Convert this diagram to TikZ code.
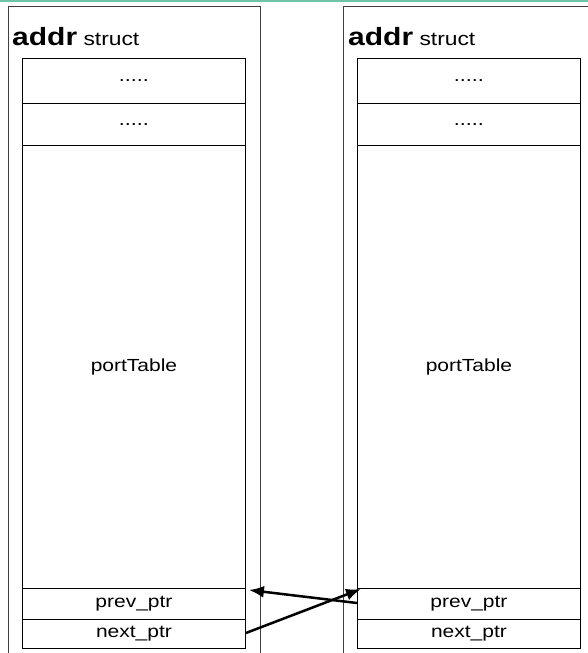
\documentclass[tikz,border=0pt]{standalone}
\usepackage{fontspec}
\setmainfont[FakeStretch=1.2]{Liberation Sans}
\usetikzlibrary{arrows.meta,calc}
\begin{document}
\begin{tikzpicture}[x=1pt,y=-1pt,
  frame/.style={draw=black!75,line width=1pt},
  cell/.style={draw=black,line width=0.9pt,rectangle,inner sep=0pt,anchor=north west,font=\fontsize{17.5}{20}\selectfont},
  dotcell/.style={cell,font=\fontsize{18}{20}\selectfont},
  ptr/.style={line width=2.5pt,-{Latex[length=15pt,width=12pt]}}]
\useasboundingbox (0,0) rectangle (588,653);
\fill[fill=white] (0,0) rectangle (588,653);
\fill[color={rgb,255:red,110;green,196;blue,165}] (0,0) rectangle (588,2);
% outer frames
\draw[frame] (8,660) -- (8,6) -- (260,6) -- (260,660);
\draw[frame] (343,660) -- (343,6) -- (600,6);
% titles
\node[anchor=base west,inner sep=0pt] (tl) at (12,45) {\fontsize{25}{28}\selectfont\bfseries addr\fontsize{19}{20}\mdseries\ struct};
\node[anchor=base west,inner sep=0pt] (tr) at (348,45) {\fontsize{25}{28}\selectfont\bfseries addr\fontsize{19}{20}\mdseries\ struct};
% structs
\foreach \s/\x in {L/22,R/357}{
  \node[dotcell,minimum width=223pt,minimum height=45pt] (\s d1) at (\x,58) {.....};
  \node[dotcell,minimum width=223pt,minimum height=42pt] (\s d2) at (\x,103) {.....};
  \node[cell,minimum width=223pt,minimum height=443pt] (\s pt) at (\x,145) {portTable};
  \node[cell,minimum width=223pt,minimum height=31pt] (\s prev) at (\x,588) {prev\_ptr};
  \node[cell,minimum width=223pt,minimum height=29pt] (\s next) at (\x,619) {next\_ptr};
}
\coordinate (a1s) at ($(Rprev.north west)+(0,15)$);
\coordinate (a1e) at ($(Lprev.north east)+(3,2)$);
\coordinate (a2s) at ($(Lnext.north east)+(0,14)$);
\coordinate (a2e) at ($(Rprev.north west)+(4,1)$);
\draw[ptr] (a1s) -- (a1e);
\draw[ptr] (a2s) -- (a2e);
\end{tikzpicture}
\end{document}
